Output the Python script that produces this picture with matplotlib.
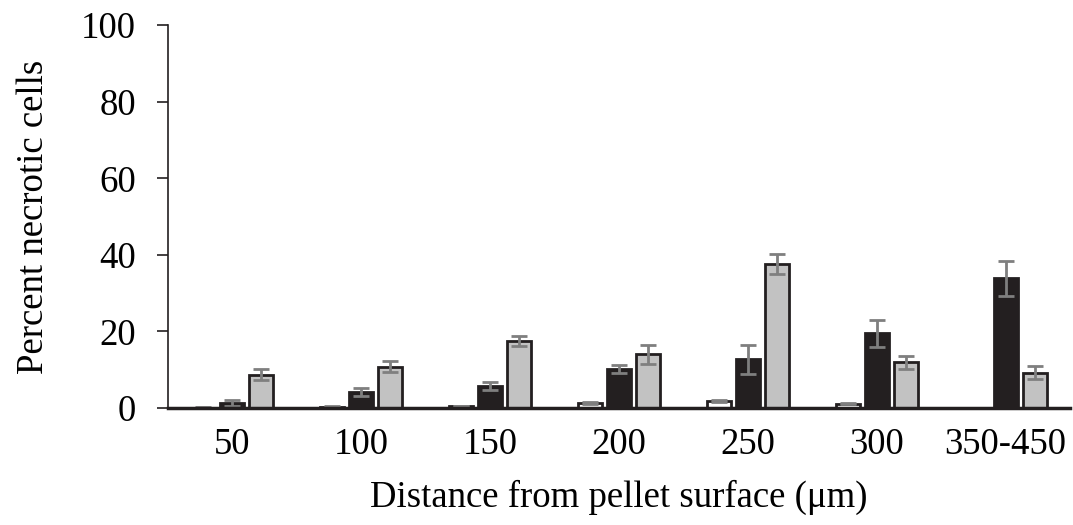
import numpy as np
import matplotlib.pyplot as plt

# distance groups and the three series (percent necrotic cells)
groups = ["50", "100", "150", "200", "250", "300", "350-450"]
white_vals = [0.1, 0.3, 0.5, 1.2, 1.9, 1.1, 0.0]
white_err = [0.1, 0.1, 0.1, 0.3, 0.3, 0.2, 0.0]
black_vals = [1.2, 4.2, 5.8, 10.2, 12.7, 19.5, 33.9]
black_err = [0.8, 1.0, 1.0, 1.0, 3.8, 3.5, 4.6]
gray_vals = [8.7, 10.8, 17.5, 14.0, 37.6, 11.9, 9.2]
gray_err = [1.5, 1.5, 1.4, 2.5, 2.6, 1.7, 1.7]

plt.rcParams['font.family'] = ['Liberation Serif', 'DejaVu Serif']

fig = plt.figure(figsize=(10.73, 5.25), dpi=100)
ax = fig.add_axes([0.1566, 0.223, 0.8406, 0.729])

x = np.arange(len(groups))
w = 0.186
step = 0.225
errkw = dict(ecolor="#7f7f7f", elinewidth=2, capsize=5.5, capthick=2)

ax.bar(x - step, white_vals, w, color="white", edgecolor="#231f20", linewidth=2,
       yerr=white_err, error_kw=errkw)
ax.bar(x, black_vals, w, color="#231f20", edgecolor="#231f20", linewidth=2,
       yerr=black_err, error_kw=errkw)
ax.bar(x + step, gray_vals, w, color="#c2c2c2", edgecolor="#231f20", linewidth=2,
       yerr=gray_err, error_kw=errkw)

ax.set_xlim(-0.5, len(groups) - 0.5)
ax.set_ylim(0, 100)
ax.set_yticks([0, 20, 40, 60, 80, 100])
ax.set_xticks(x)
ax.set_xticklabels(groups)

for s in ["top", "right"]:
    ax.spines[s].set_visible(False)
ax.spines["left"].set_color("#231f20")
ax.spines["left"].set_linewidth(1.2)
ax.spines["bottom"].set_color("#231f20")
ax.spines["bottom"].set_linewidth(2.5)

ax.tick_params(axis="y", length=8, width=1.2, color="#231f20", labelsize=26.5, pad=15)
ax.tick_params(axis="x", length=0, labelsize=26.5, pad=14)

ax.set_ylabel("Percent necrotic cells", fontsize=26.5, labelpad=22)
ax.set_xlabel("Distance from pellet surface (μm)", fontsize=26.5, labelpad=13)

fig.savefig("out.png", dpi=100)
